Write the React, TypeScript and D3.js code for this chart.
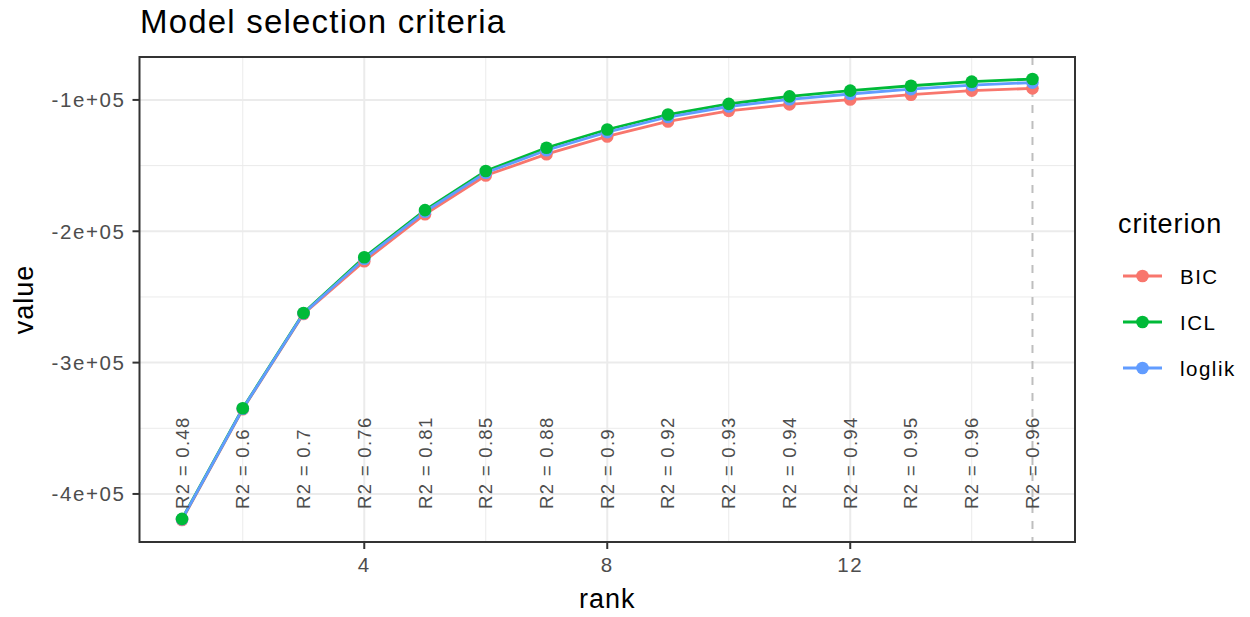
import React from "react";
import * as d3 from "d3";

const ranks = [1, 2, 3, 4, 5, 6, 7, 8, 9, 10, 11, 12, 13, 14, 15];
const bicValues = [-419800, -335500, -263000, -222800, -187000, -157500, -141300, -127800, -116400, -108300, -103400, -99700, -96000, -92900, -91200];
const iclValues = [-419000, -334800, -262200, -219800, -183900, -154100, -136400, -122500, -111100, -103000, -97300, -92900, -89200, -86100, -84100];
const loglikValues = [-419300, -335100, -262500, -220900, -185100, -155400, -138300, -124500, -113000, -105000, -99500, -95500, -91800, -88700, -86800];
const r2Labels = ["0.48", "0.6", "0.7", "0.76", "0.81", "0.85", "0.88", "0.9", "0.92", "0.93", "0.94", "0.94", "0.95", "0.96", "0.96"];
const r2LabelValue = -411400;
const selectedRank = 15;
const xTicks = [4, 8, 12];
const xMinor = [2, 6, 10, 14];
const yTicks = [-100000, -200000, -300000, -400000];
const yTickLabels = ["-1e+05", "-2e+05", "-3e+05", "-4e+05"];
const yMinor = [-150000, -250000, -350000];

const seriesNames = ["BIC", "ICL", "loglik"];
const seriesColors: Record<string, string> = { BIC: "#F8766D", ICL: "#00BA38", loglik: "#619CFF" };
const seriesData: Record<string, number[]> = { BIC: bicValues, ICL: iclValues, loglik: loglikValues };

const FONT = "'Liberation Sans', Arial, Helvetica, sans-serif";

export default function App() {
  const W = 1250, H = 617;
  const left = 139.5, right = 1075, top = 57, bottom = 542;

  const all = [...bicValues, ...iclValues, ...loglikValues];
  const yMin = d3.min(all)!, yMax = d3.max(all)!;
  const yPad = (yMax - yMin) * 0.05;
  const xPad = (15 - 1) * 0.05;
  const x = d3.scaleLinear().domain([1 - xPad, 15 + xPad]).range([left, right]);
  const y = d3.scaleLinear().domain([yMin - yPad, yMax + yPad]).range([bottom, top]);

  const line = d3.line<[number, number]>().x((d) => x(d[0])).y((d) => y(d[1]));
  const lineOrder = ["BIC", "ICL", "loglik"];
  const pointOrder = ["BIC", "loglik", "ICL"];

  return (
    <svg width={W} height={H} style={{ position: "absolute", left: 0, top: 0, background: "#fff" }}>
      <rect x={0} y={0} width={W} height={H} fill="#fff" />
      {/* title */}
      <text x={140} y={33} fontFamily={FONT} fontSize={33} letterSpacing={1.2} fill="#000">Model selection criteria</text>

      {/* grid */}
      {yMinor.map((v) => (
        <line key={"ym" + v} x1={left} x2={right} y1={y(v)} y2={y(v)} stroke="#EBEBEB" strokeWidth={1} />
      ))}
      {xMinor.map((v) => (
        <line key={"xm" + v} x1={x(v)} x2={x(v)} y1={top} y2={bottom} stroke="#EBEBEB" strokeWidth={1} />
      ))}
      {yTicks.map((v) => (
        <line key={"yg" + v} x1={left} x2={right} y1={y(v)} y2={y(v)} stroke="#EBEBEB" strokeWidth={2} />
      ))}
      {xTicks.map((v) => (
        <line key={"xg" + v} x1={x(v)} x2={x(v)} y1={top} y2={bottom} stroke="#EBEBEB" strokeWidth={2} />
      ))}

      {/* dashed selected line */}
      <line x1={x(selectedRank)} x2={x(selectedRank)} y1={top} y2={bottom} stroke="#BEBEBE" strokeWidth={2} strokeDasharray="8,8" />

      {/* lines */}
      {lineOrder.map((s) => (
        <path key={"l" + s} d={line(ranks.map((r, i) => [r, seriesData[s][i]]))!} fill="none" stroke={seriesColors[s]} strokeWidth={2.8} />
      ))}
      {/* points */}
      {pointOrder.map((s) => (
        <g key={"p" + s}>
          {ranks.map((r, i) => (
            <circle key={r} cx={x(r)} cy={y(seriesData[s][i])} r={6.3} fill={seriesColors[s]} />
          ))}
        </g>
      ))}

      {/* R2 labels */}
      {ranks.map((r, i) => (
        <text key={"r2" + r} transform={`translate(${x(r)},${y(r2LabelValue)}) rotate(-90)`} fontFamily={FONT} fontSize={18.5} letterSpacing={1.3} fill="#4D4D4D" dominantBaseline="central">{`R2 = ${r2Labels[i]}`}</text>
      ))}

      {/* panel border */}
      <rect x={left} y={top} width={right - left} height={bottom - top} fill="none" stroke="#333333" strokeWidth={2} />

      {/* y axis */}
      {yTicks.map((v, i) => (
        <g key={"yt" + v}>
          <line x1={left - 7} x2={left} y1={y(v)} y2={y(v)} stroke="#333333" strokeWidth={2} />
          <text x={left - 14} y={y(v)} textAnchor="end" dominantBaseline="central" fontFamily={FONT} fontSize={20.5} letterSpacing={1.6} fill="#4D4D4D">{yTickLabels[i]}</text>
        </g>
      ))}
      {/* x axis */}
      {xTicks.map((v) => (
        <g key={"xt" + v}>
          <line x1={x(v)} x2={x(v)} y1={bottom} y2={bottom + 7} stroke="#333333" strokeWidth={2} />
          <text x={x(v)} y={572} textAnchor="middle" fontFamily={FONT} fontSize={20.5} letterSpacing={1.6} fill="#4D4D4D">{String(v)}</text>
        </g>
      ))}

      {/* axis titles */}
      <text x={(left + right) / 2} y={608} textAnchor="middle" fontFamily={FONT} fontSize={27} letterSpacing={1} fill="#000">rank</text>
      <text transform={`translate(33,${(top + bottom) / 2}) rotate(-90)`} textAnchor="middle" fontFamily={FONT} fontSize={27} letterSpacing={1} fill="#000">value</text>

      {/* legend */}
      <text x={1118} y={233} fontFamily={FONT} fontSize={27} letterSpacing={0.9} fill="#000">criterion</text>
      {seriesNames.map((s, i) => {
        const ky = 276 + i * 46;
        return (
          <g key={"lg" + s}>
            <line x1={1123} x2={1162} y1={ky} y2={ky} stroke={seriesColors[s]} strokeWidth={2.8} />
            <circle cx={1142.5} cy={ky} r={6.3} fill={seriesColors[s]} />
            <text x={1180} y={ky} dominantBaseline="central" fontFamily={FONT} fontSize={20.5} letterSpacing={1.5} fill="#000">{s}</text>
          </g>
        );
      })}
    </svg>
  );
}
